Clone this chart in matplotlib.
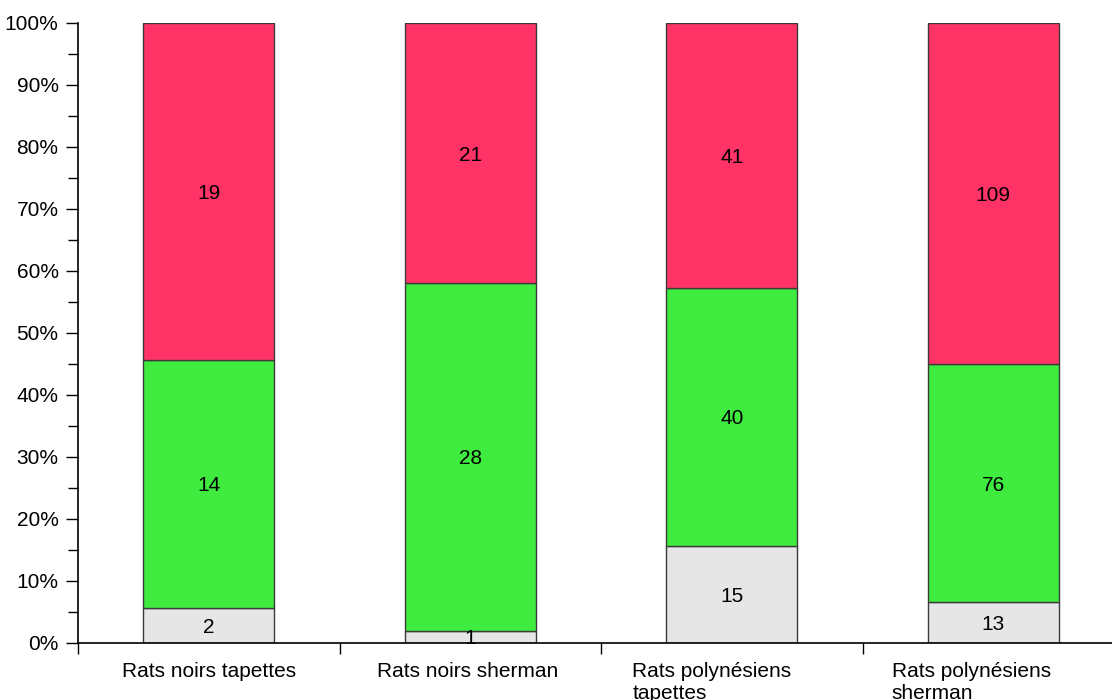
import matplotlib
matplotlib.use("Agg")
import matplotlib.pyplot as plt
import matplotlib.transforms as mtransforms
from matplotlib.ticker import MultipleLocator, PercentFormatter
import numpy as np

plt.rcParams['font.family'] = ['Liberation Sans', 'DejaVu Sans']

categories = ["Rats noirs tapettes", "Rats noirs sherman",
              "Rats polynésiens\ntapettes", "Rats polynésiens\nsherman"]
grey_vals = [2, 1, 15, 13]
green_vals = [14, 28, 40, 76]
red_vals = [19, 21, 41, 109]

colors = ["#E6E6E6", "#3FEB3F", "#FF3366"]

fig = plt.figure(figsize=(11.12, 7.0), dpi=100)
ax = fig.add_axes([78 / 1112, 57 / 700, 1046 / 1112, 620 / 700])

series = [grey_vals, green_vals, red_vals]
totals = np.array(grey_vals) + np.array(green_vals) + np.array(red_vals)
x = np.arange(len(categories)) + 0.5
bottom = np.zeros(len(categories))
for vals, col in zip(series, colors):
    pct = np.array(vals) / totals * 100
    ax.bar(x, pct, width=0.5, bottom=bottom, color=col,
           edgecolor="#3a3a3a", linewidth=1.0, zorder=2)
    for xi, b, p, v in zip(x, bottom, pct, vals):
        ax.text(xi, b + p / 2, str(v), ha="center", va="center_baseline",
                fontsize=15, color="black", zorder=3)
    bottom += pct

ax.set_xlim(0, 4)
ax.set_ylim(0, 100)
ax.yaxis.set_major_locator(MultipleLocator(10))
ax.yaxis.set_minor_locator(MultipleLocator(5))
ax.yaxis.set_major_formatter(PercentFormatter(decimals=0))
ax.tick_params(axis="y", which="major", length=9, width=1, labelsize=15, pad=5)
ax.tick_params(axis="y", which="minor", length=7, width=1)

ax.set_xticks([0, 1, 2, 3, 4])
ax.set_xticklabels([])
ax.set_xticks(x, minor=True)
ax.set_xticklabels(categories, minor=True)
ax.tick_params(axis="x", which="major", length=8, width=1)
ax.tick_params(axis="x", which="minor", length=0, labelsize=15, pad=14)
offsets_px = [0, -3, -20, -22]
for lbl, dx in zip(ax.get_xticklabels(minor=True), offsets_px):
    lbl.set_multialignment("left")
    lbl.set_verticalalignment("top")
    lbl.set_transform(lbl.get_transform() +
                      mtransforms.ScaledTranslation(dx / 100, 0, fig.dpi_scale_trans))

for s in ["top", "right"]:
    ax.spines[s].set_visible(False)
ax.spines["left"].set_linewidth(1.2)
ax.spines["bottom"].set_linewidth(1.2)

fig.savefig("out.png", dpi=100)
